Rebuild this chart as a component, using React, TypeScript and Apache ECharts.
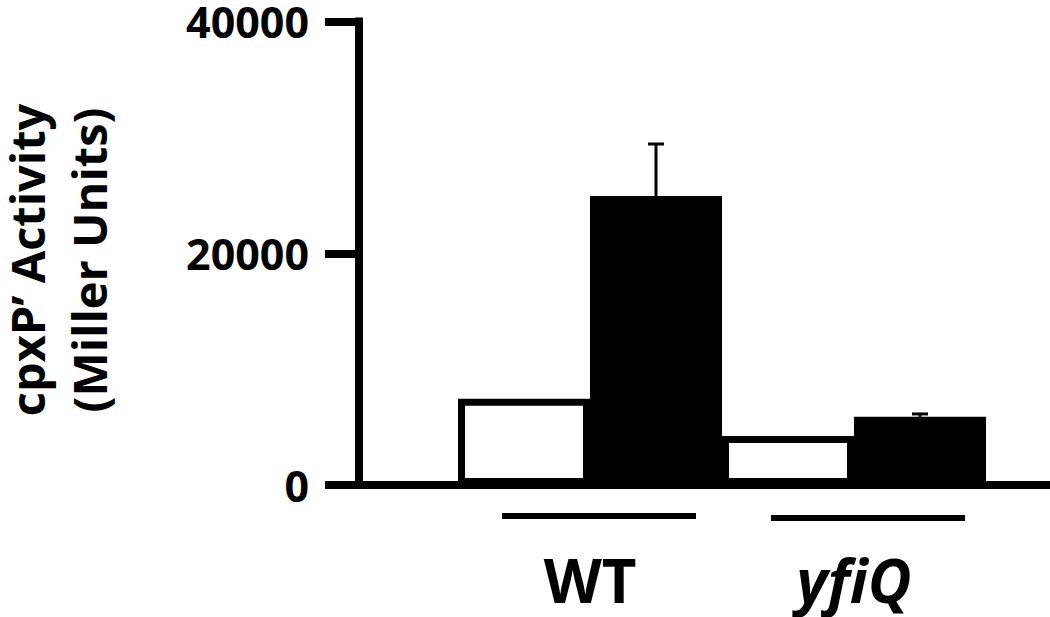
import React, { useEffect, useRef } from "react";
import * as echarts from "echarts";

const categories = ["WT", "yfiQ"];
const untreated = [7400, 4200];
const treated = [24800, 5850];
const treatedErr = [4470, 250];
const yTicks = [0, 20000, 40000];
const yTitle1 = "cpxP\u2019 Activity";
const yTitle2 = "(Miller Units)";

export default function App() {
  const ref = useRef<HTMLDivElement>(null);
  useEffect(() => {
    if (!ref.current) return;
    const chart = echarts.init(ref.current, null, { renderer: "svg" });
    const font = "'Open Sans', sans-serif";
    const errData = categories.map((c, i) => [i, treated[i], treated[i] + treatedErr[i]]);
    chart.setOption({
      animation: false,
      backgroundColor: "#ffffff",
      grid: [
        { left: 359, right: 0, top: 19, bottom: 132 },
        { left: 458, right: 64, top: 19, bottom: 132 },
      ],
      xAxis: [
        {
          gridIndex: 0,
          type: "value",
          min: 0,
          max: 1,
          axisLine: { show: true, onZero: false, lineStyle: { color: "#000", width: 8, cap: "square" } },
          axisTick: { show: false },
          axisLabel: { show: false },
          splitLine: { show: false },
        },
        {
          gridIndex: 1,
          type: "category",
          data: categories,
          axisLine: { show: false },
          axisTick: { show: false },
          axisLabel: {
            margin: 70,
            formatter: (v: string) => (v === "yfiQ" ? "{i|" + v + "}" : "{n|" + v + "}"),
            rich: {
              n: { fontFamily: font, fontWeight: "bold", fontSize: 60, lineHeight: 50, color: "#000" },
              i: { fontFamily: font, fontWeight: "bold", fontStyle: "italic", fontSize: 60, lineHeight: 50, color: "#000" },
            },
          },
        },
      ],
      yAxis: [
        {
          gridIndex: 0,
          type: "value",
          min: 0,
          max: 40000,
          interval: 20000,
          axisLine: { show: true, lineStyle: { color: "#000", width: 8, cap: "square" } },
          axisTick: { show: true, length: 34, lineStyle: { color: "#000", width: 8 } },
          axisLabel: {
            margin: 50,
            fontFamily: font,
            fontWeight: "bold",
            fontSize: 43,
            lineHeight: 36,
            color: "#000",
            formatter: (v: number) => (yTicks.includes(v) ? String(v) : ""),
          },
          splitLine: { show: false },
        },
        {
          gridIndex: 1,
          type: "value",
          min: 0,
          max: 40000,
          show: false,
        },
      ],
      series: [
        {
          type: "bar",
          xAxisIndex: 1,
          yAxisIndex: 1,
          data: untreated,
          barGap: "0%",
          barCategoryGap: "0%",
          itemStyle: { color: "#fff", borderColor: "#000", borderWidth: 7 },
          z: 2,
        },
        {
          type: "bar",
          xAxisIndex: 1,
          yAxisIndex: 1,
          data: treated,
          barGap: "0%",
          barCategoryGap: "0%",
          itemStyle: { color: "#000" },
          z: 3,
        },
        {
          type: "custom",
          xAxisIndex: 1,
          yAxisIndex: 1,
          data: errData,
          z: 4,
          renderItem: (params: any, api: any) => {
            const idx = api.value(0);
            const band = api.size([1, 0])[0];
            const base = api.coord([idx, api.value(1)]);
            const top = api.coord([idx, api.value(2)]);
            const x = base[0] + band / 4;
            const style = { stroke: "#000", lineWidth: 3 };
            return {
              type: "group",
              children: [
                { type: "line", shape: { x1: x, y1: base[1], x2: x, y2: top[1] }, style },
                { type: "line", shape: { x1: x - 8, y1: top[1], x2: x + 8, y2: top[1] }, style },
              ],
            };
          },
        },
      ],
      graphic: [
        {
          type: "text",
          x: 27,
          y: 260,
          rotation: Math.PI / 2,
          style: {
            text: yTitle1,
            fontFamily: font,
            fontWeight: "bold",
            fontSize: 47,
            lineHeight: 40,
            fill: "#000",
            textAlign: "center",
            textVerticalAlign: "middle",
          },
        },
        {
          type: "text",
          x: 89,
          y: 260,
          rotation: Math.PI / 2,
          style: {
            text: yTitle2,
            fontFamily: font,
            fontWeight: "bold",
            fontSize: 47,
            lineHeight: 40,
            fill: "#000",
            textAlign: "center",
            textVerticalAlign: "middle",
          },
        },
        {
          type: "line",
          shape: { x1: 502, y1: 516, x2: 696, y2: 516 },
          style: { stroke: "#000", lineWidth: 6 },
        },
        {
          type: "line",
          shape: { x1: 771, y1: 518, x2: 965, y2: 518 },
          style: { stroke: "#000", lineWidth: 6 },
        },
      ],
    });
    return () => chart.dispose();
  }, []);
  return <div ref={ref} style={{ width: 1050, height: 617, position: "absolute", left: 0, top: 0 }} />;
}
